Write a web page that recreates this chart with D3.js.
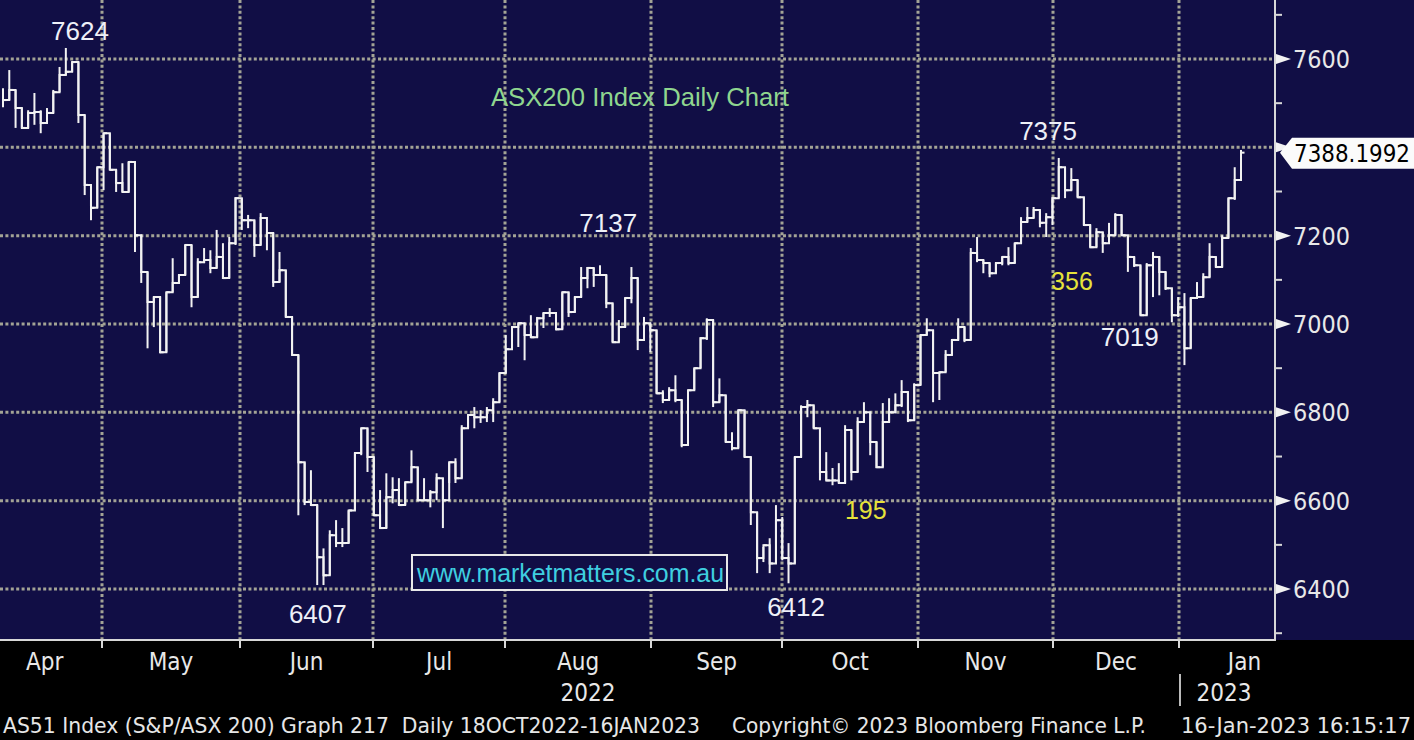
<!DOCTYPE html>
<html><head><meta charset="utf-8">
<script src="https://cdn.jsdelivr.net/npm/d3@7"></script>
<style>html,body{margin:0;padding:0;background:#000;overflow:hidden}svg{display:block}text{white-space:pre}</style>
</head><body>
<script>
// ---- data (ASX200 daily: high, low, close) ----
const high = [7534,7575,7530,7489,7484,7523,7484,7489,7530,7582,7625,7593,7593,7473,7315,7355,
7432,7432,7349,7364,7367,7367,7201,7118,7061,7061,7072,7149,7111,7179,7179,7149,7172,7167,7213,7183,7197,7287,
7285,7247,7235,7251,7208,7206,7163,7122,7016,6930,6687,6669,6590,6492,6533,6556,6538,6578,6708,6764,6764,
6699,6624,6662,6653,6651,6642,6714,6676,6651,6624,6662,6651,6687,6696,6771,6794,6812,6805,6812,6832,6889,
6975,6993,7002,7002,7020,7016,7025,7036,7025,7072,7072,7061,7129,7129,7127,7133,7111,7047,7009,7059,7129,7104,7016,
7002,6986,6850,6857,6884,6828,6850,6900,6970,7013,7009,6877,6839,6755,6805,6805,6699,6574,6495,6515,6590,
6563,6504,6699,6816,6828,6816,6764,6710,6674,6685,6771,6760,6789,6823,6800,6733,6821,6832,6843,6873,6846,6866,
6975,7013,6986,6889,6941,6964,7013,6993,7172,7197,7145,7138,7138,7152,7174,7183,7242,7265,7265,7258,7251,
7287,7376,7355,7353,7326,7287,7224,7217,7208,7229,7251,7247,7201,7152,7133,7138,7163,7152,7118,7081,7061,
7070,7059,7095,7115,7183,7152,7201,7285,7355,7394];
const low = [7491,7507,7444,7444,7444,7451,7432,7455,7478,7525,7564,7571,7455,7292,7235,7263,
7303,7349,7299,7299,7299,7163,7093,6945,6993,6934,6936,7072,7093,7111,7038,7061,7138,7115,7127,7102,7104,7179,
7213,7217,7152,7179,7167,7084,7095,7016,6930,6567,6590,6590,6409,6409,6431,6495,6495,6504,6578,6703,6665,
6567,6538,6538,6594,6590,6590,6642,6601,6601,6585,6601,6538,6640,6640,6651,6764,6764,6776,6778,6778,6823,
6889,6943,6948,6918,6970,6970,6991,7016,6986,6988,7016,7027,7061,7081,7084,7111,7036,6959,6959,6993,7047,6941,6964,
6936,6843,6821,6828,6823,6721,6726,6850,6900,6964,6812,6823,6733,6714,6719,6699,6545,6436,6461,6436,6458,
6465,6413,6458,6699,6789,6764,6646,6646,6635,6640,6640,6646,6665,6778,6703,6674,6676,6778,6798,6812,6778,6782,
6862,6975,6823,6828,6891,6930,6964,6959,6964,7140,7115,7106,7115,7133,7133,7138,7183,7231,7240,7219,7197,
7224,7285,7285,7303,7287,7224,7174,7174,7161,7183,7201,7201,7118,7129,7020,7020,7061,7065,7077,7004,7016,
6907,6945,7059,7061,7106,7129,7129,7195,7281,7326];
const close = [7507,7530,7489,7444,7478,7480,7455,7478,7525,7564,7571,7593,7473,7315,7263,7355,
7432,7349,7319,7299,7367,7201,7118,7050,7061,6936,7072,7093,7111,7179,7061,7140,7145,7127,7152,7104,7183,7285,
7235,7235,7179,7240,7206,7095,7122,7016,6930,6687,6597,6590,6472,6431,6522,6504,6504,6578,6708,6764,6699,
6567,6538,6608,6624,6590,6642,6676,6601,6601,6619,6651,6601,6687,6651,6764,6794,6789,6789,6805,6823,6889,
6943,6993,7002,6975,6970,7013,7025,7025,6988,7072,7027,7061,7104,7127,7111,7111,7047,6959,6993,7059,7104,6964,7002,
6986,6843,6828,6850,6828,6726,6850,6900,6968,7009,6823,6839,6733,6719,6805,6699,6574,6470,6499,6458,6556,
6470,6458,6699,6812,6816,6764,6665,6646,6646,6640,6760,6665,6778,6800,6733,6676,6778,6800,6816,6846,6782,6862,
6975,6986,6889,6891,6930,6964,6993,6964,7161,7145,7138,7115,7138,7152,7138,7183,7231,7240,7258,7229,7242,
7285,7355,7303,7326,7287,7224,7174,7208,7183,7201,7247,7201,7152,7133,7020,7133,7152,7118,7081,7020,7038,
6945,7059,7061,7106,7152,7129,7195,7285,7326,7388];
const lastPrice = "7388.1992";

// month boundaries in trading-day index units
const monthLabels = ["Apr","May","Jun","Jul","Aug","Sep","Oct","Nov","Dec","Jan"];
const monthStart  = [-2.5, 15.75, 37.7, 58.9, 79.9, 103.1, 124.0, 145.6, 167.1, 187.1];
const monthEnd    = [15.75, 37.7, 58.9, 79.9, 103.1, 124.0, 145.6, 167.1, 187.1, 208];
const yearLabels  = ["2022","2023"];
const yearPos     = [93.1, 194.3];
const yMajor = [6400,6600,6800,7000,7200,7400,7600];
const yMinor = [6300,6500,6700,6900,7100,7300,7500,7700];
const yLabels = ["6400","6600","6800","7000","7200",null,"7600"];

// annotations: [text, dayIndex, value at text baseline]
const notes = [["7624",12.25,7643],["7137",96.3,7208],["6407",50.1,6323],["6412",126.2,6339],["7375",166.3,7416],["7019",179.3,6950]];
const notesY = [["195",137.3,6558],["356",170.1,7077]];

const W=1414, H=740, PB=640, PR=1275;
const NAVY="#110e45", GRID="#a3a395", WHITE="#f2f2f2";
const svg=d3.select("body").append("svg").attr("width",W).attr("height",H);
svg.append("rect").attr("width",W).attr("height",H).attr("fill","#000");
svg.append("rect").attr("width",W).attr("height",PB).attr("fill",NAVY);

const x=d3.scaleLinear().domain([0,high.length-1]).range([3,1241]);
const y=d3.scaleLinear().domain([6284.6,7733.6]).range([PB,0]);

// grid
svg.append("g").selectAll("line").data(yMajor).join("line")
  .attr("x1",0).attr("x2",PR).attr("y1",d=>y(d)).attr("y2",d=>y(d))
  .attr("stroke",GRID).attr("stroke-width",3).attr("stroke-dasharray","3 2.4");
svg.append("g").selectAll("line").data(monthStart.slice(1)).join("line")
  .attr("x1",d=>Math.round(x(d))).attr("x2",d=>Math.round(x(d))).attr("y1",0).attr("y2",PB)
  .attr("stroke",GRID).attr("stroke-width",3).attr("stroke-dasharray","3 2.4");

// bars
const idx=d3.range(high.length);
svg.append("g").selectAll("line").data(idx).join("line")
  .attr("x1",i=>x(i)).attr("x2",i=>x(i)).attr("y1",i=>y(high[i])).attr("y2",i=>y(low[i]))
  .attr("stroke",WHITE).attr("stroke-width",2);
const step=d3.line().x(i=>x(i)).y(i=>y(close[i])).curve(d3.curveStepAfter);
svg.append("path").attr("d",step(idx)).attr("fill","none").attr("stroke",WHITE).attr("stroke-width",2);
svg.append("g").selectAll("line").data(idx).join("line")
  .attr("x1",i=>x(i)).attr("x2",i=>x(i)+3.5).attr("y1",i=>y(close[i])).attr("y2",i=>y(close[i]))
  .attr("stroke",WHITE).attr("stroke-width",2);

// axes
const AX="#d8d8d8";
svg.append("line").attr("x1",0).attr("x2",PR+1).attr("y1",PB).attr("y2",PB).attr("stroke",AX).attr("stroke-width",2);
svg.append("line").attr("x1",PR).attr("x2",PR).attr("y1",0).attr("y2",PB).attr("stroke",AX).attr("stroke-width",2);
svg.append("g").selectAll("line").data(monthStart.slice(1)).join("line")
  .attr("x1",d=>Math.round(x(d))).attr("x2",d=>Math.round(x(d))).attr("y1",PB).attr("y2",PB+8)
  .attr("stroke",AX).attr("stroke-width",2);
svg.append("g").selectAll("line").data(yMinor).join("line")
  .attr("x1",PR).attr("x2",PR+7).attr("y1",d=>y(d)).attr("y2",d=>y(d)).attr("stroke",AX).attr("stroke-width",2);
svg.append("g").selectAll("path").data(yMajor).join("path")
  .attr("d",d=>`M${PR+1},${y(d)-5}L${PR+16},${y(d)}L${PR+1},${y(d)+5}Z`).attr("fill",WHITE);
svg.append("g").selectAll("text").data(yMajor.filter((d,i)=>yLabels[i])).join("text")
  .attr("x",1293).attr("y",d=>y(d)+9).text(d=>yLabels[yMajor.indexOf(d)])
  .attr("font-family","DejaVu Sans Condensed, DejaVu Sans").attr("font-size",24)
  .attr("textLength",57).attr("lengthAdjust","spacingAndGlyphs").attr("fill","#e8e8e8");

// last price tag
const yp=y(close[close.length-1]);
svg.append("path").attr("d",`M${PR+5},${yp}L${PR+17},${yp-15}L${W},${yp-15}L${W},${yp+16}L${PR+17},${yp+16}Z`).attr("fill","#fbfbfb");
svg.append("text").attr("x",1294).attr("y",yp+9).text(lastPrice)
  .attr("font-family","DejaVu Sans Condensed, DejaVu Sans").attr("font-size",24)
  .attr("textLength",116).attr("lengthAdjust","spacingAndGlyphs").attr("fill","#000");

// month labels
svg.append("g").selectAll("text").data(monthLabels).join("text")
  .attr("x",(d,i)=>x((monthStart[i]+monthEnd[i])/2)).attr("y",670).attr("text-anchor","middle").text(d=>d)
  .attr("font-family","DejaVu Sans Condensed, DejaVu Sans").attr("font-size",24).attr("fill","#e8e8e8");
svg.append("g").selectAll("text").data(yearLabels).join("text")
  .attr("x",(d,i)=>x(yearPos[i])).attr("y",701).attr("text-anchor","middle").text(d=>d)
  .attr("font-family","DejaVu Sans Condensed, DejaVu Sans").attr("font-size",24).attr("fill","#e8e8e8");
svg.append("line").attr("x1",1180).attr("x2",1180).attr("y1",674).attr("y2",706).attr("stroke","#bbb").attr("stroke-width",2);

// footer
const foot=[["AS51 Index (S&P/ASX 200) Graph 217  Daily 18OCT2022-16JAN2023",3,697],["Copyright© 2023 Bloomberg Finance L.P.",732,414],["16-Jan-2023 16:15:17",1181,230]];
svg.append("g").selectAll("text").data(foot).join("text")
  .attr("x",d=>d[1]).attr("y",733).text(d=>d[0]).attr("textLength",d=>d[2]).attr("lengthAdjust","spacingAndGlyphs")
  .attr("font-family","DejaVu Sans Condensed, DejaVu Sans").attr("font-size",21).attr("fill","#e6e6e6");

// title
svg.append("text").attr("x",491).attr("y",106).text("ASX200 Index Daily Chart")
  .attr("font-family","Liberation Sans, Arial").attr("font-size",25).attr("textLength",298).attr("lengthAdjust","spacingAndGlyphs")
  .attr("fill","#8fd68f");

// annotations
svg.append("g").selectAll("text").data(notes).join("text")
  .attr("x",d=>x(d[1])).attr("y",d=>y(d[2])).attr("text-anchor","middle").text(d=>d[0])
  .attr("font-family","Liberation Sans, Arial").attr("font-size",26).attr("fill","#eef0f8");
svg.append("g").selectAll("text").data(notesY).join("text")
  .attr("x",d=>x(d[1])).attr("y",d=>y(d[2])).attr("text-anchor","middle").text(d=>d[0])
  .attr("font-family","Liberation Sans, Arial").attr("font-size",25).attr("fill","#e6e23a");

// watermark
svg.append("rect").attr("x",412).attr("y",555).attr("width",315).attr("height",35)
  .attr("fill",NAVY).attr("stroke","#e8e8e8").attr("stroke-width",2);
svg.append("text").attr("x",417).attr("y",582).text("www.marketmatters.com.au")
  .attr("font-family","Liberation Sans, Arial").attr("font-size",25).attr("textLength",307).attr("lengthAdjust","spacingAndGlyphs")
  .attr("fill","#3fcfe0");
</script>
</body></html>
